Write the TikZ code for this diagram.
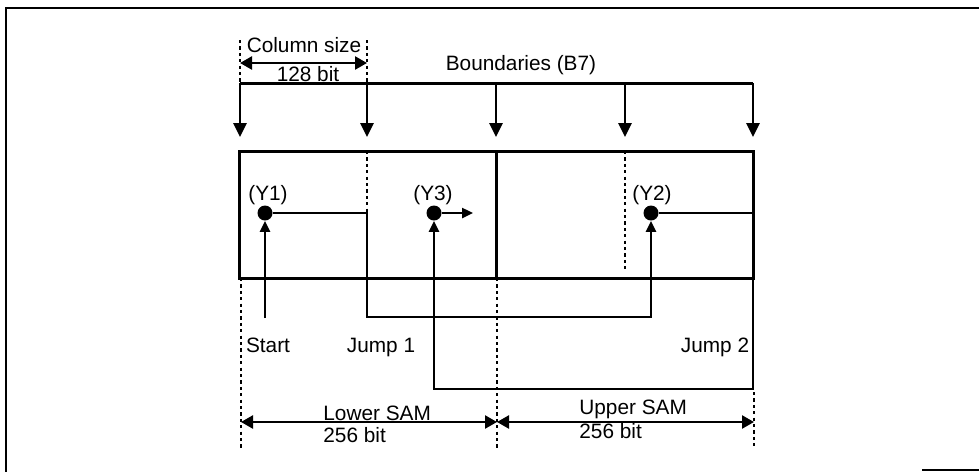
\documentclass[tikz,border=0pt]{standalone}
\usepackage{fontspec}
\setmainfont{Liberation Sans}
\usetikzlibrary{arrows.meta}

\begin{document}
\begin{tikzpicture}[x=0.5pt, y=-0.5pt,
        every node/.style={font=\fontsize{10.4}{12}\selectfont, inner sep=0pt},
        lbl/.style={anchor=base},
        boxline/.style={line width=1.5pt},
        pathline/.style={line width=1.2pt},
        dotline/.style={line width=1.3pt, dash pattern=on 1.6pt off 1.6pt},
        bigtip/.style={-{Triangle[width=6.5pt, length=7pt]}},
        smalltip/.style={-{Triangle[width=5pt, length=5.5pt]}},
        bothtip/.style={{Triangle[width=6.5pt, length=6pt]}-{Triangle[width=6.5pt, length=6pt]}},
        spot/.style={circle, fill, minimum size=7.5pt}]
        \useasboundingbox (0,0) rectangle (979,472);

        % frame
        \draw[line width=1pt] (979,8) -- (6,8) -- (6,472);
        \draw[line width=1pt] (922,470) -- (979,470);

        % column size
        \coordinate (cl) at (240,63);
        \coordinate (cr) at (367,63);
        \draw[dotline] (240,40) -- (240,83);
        \draw[dotline] (367,40) -- (367,83);
        \draw[pathline, bothtip] (cl) -- (cr);
        \node[lbl] (colsize) at (304,52) {Column size};
        \node[lbl] (colbits) at (308,81) {128 bit};

        % boundaries
        \node[lbl] (bound) at (521,70) {Boundaries (B7)};
        \draw[boxline] (240,83) -- (753,83);
        \foreach \x [count=\i] in {240,367,496,625,753} {
            \coordinate (b\i) at (\x,83);
            \coordinate (t\i) at (\x,137);
            \draw[line width=1.4pt, bigtip] (b\i) -- (t\i);
        }

        % SAM box
        \draw[boxline] (239,151) rectangle (753,278);
        \draw[boxline] (496,151) -- (496,278);
        \draw[dotline] (367,151) -- (367,278);
        \draw[dotline] (625,151) -- (625,272);

        % pointers
        \node[spot] (y1) at (265,213) {};
        \node[spot] (y3) at (434,213) {};
        \node[spot] (y2) at (651,213) {};
        \node[lbl] (ly1) at (268,200) {(Y1)};
        \node[lbl] (ly3) at (433,200) {(Y3)};
        \node[lbl] (ly2) at (652,200) {(Y2)};

        \coordinate (s0) at (265,318);
        \coordinate (y3out) at (473,213);
        \draw[pathline, smalltip] (s0) -- (y1); % start
        \draw[pathline, smalltip] (y1) -- (367,213) -- (367,317) -- (651,317) -- (y2); % jump 1
        \draw[pathline, smalltip] (y2) -- (753,213) -- (753,389) -- (434,389) -- (y3); % jump 2
        \draw[pathline, smalltip] (y3) -- (y3out);

        \node[lbl] (start) at (268,352) {Start};
        \node[lbl] (jump1) at (381,352) {Jump 1};
        \node[lbl] (jump2) at (715,352) {Jump 2};

        % lower / upper SAM
        \coordinate (sl) at (241,422);
        \coordinate (sm) at (497,422);
        \coordinate (sr) at (754,422);
        \draw[dotline] (241,278) -- (241,448);
        \draw[dotline] (497,278) -- (497,448);
        \draw[dotline] (754,392) -- (754,448);
        \draw[pathline, bothtip] (sl) -- (sm);
        \draw[pathline, bothtip] (sm) -- (sr);
        \node[lbl, anchor=base west] (lsam) at (323,420) {Lower SAM};
        \node[lbl, anchor=base west] (lbits) at (323,442) {256 bit};
        \node[lbl, anchor=base west] (usam) at (579,414) {Upper SAM};
        \node[lbl, anchor=base west] (ubits) at (579,438) {256 bit};
    \end{tikzpicture}
\end{document}
